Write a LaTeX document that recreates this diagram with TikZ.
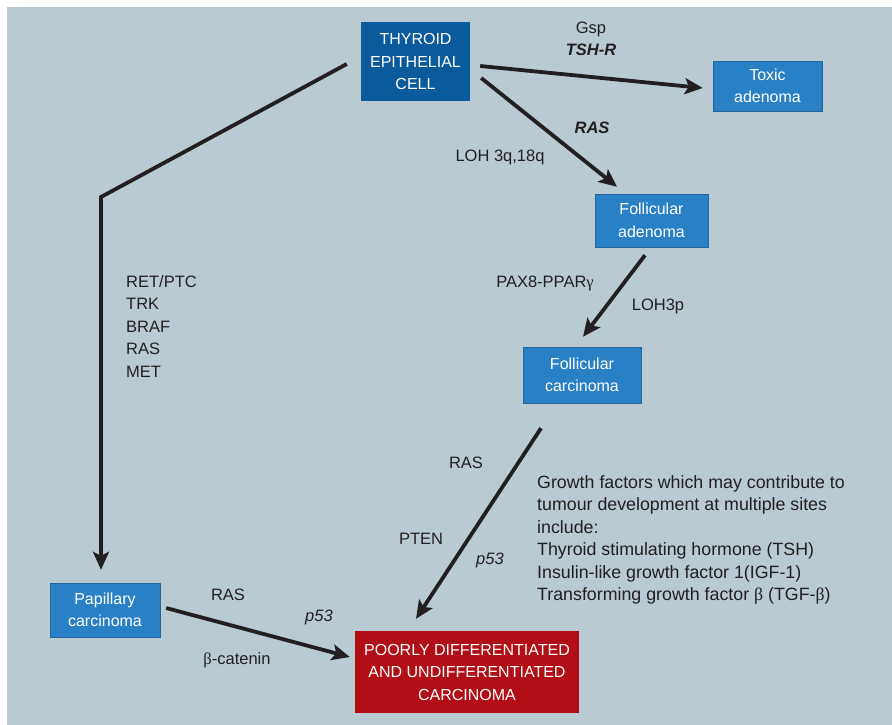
\documentclass[tikz,border=0pt]{standalone}
\usepackage{fontspec}
\setmainfont{Liberation Sans}
\newfontfamily\grk{Liberation Serif}
\usetikzlibrary{arrows.meta}
\definecolor{bgc}{HTML}{B9CAD3}
\definecolor{dblue}{HTML}{0A5A9C}
\definecolor{lblue}{HTML}{2A80C5}
\definecolor{dred}{HTML}{B20E16}
\definecolor{ink}{HTML}{231F20}
\tikzset{
  boxbase/.style={text=white, align=center, inner sep=0pt, font=\fontsize{16}{22.5}\selectfont},
  darkbox/.style={boxbase, fill=dblue},
  lightbox/.style={boxbase, fill=lblue, draw=lblue!80!black, line width=0.4pt},
  redbox/.style={boxbase, fill=dred},
  lbl/.style={text=ink, inner sep=0pt, font=\fontsize{16.5}{22.5}\selectfont},
  arr/.style={draw=ink, line width=3.8pt, -{Stealth[length=18pt,width=16pt,inset=4pt]}},
}
\begin{document}
\begin{tikzpicture}[x=1pt,y=-1pt]
\useasboundingbox (0,0) rectangle (892,725);
\fill[white] (0,0) rectangle (892,725);
\fill[bgc] (7,7) rectangle (892,725);

\node[darkbox, minimum width=109pt, minimum height=79pt] (cell) at (415.5,61.5) {THYROID\\EPITHELIAL\\CELL};
\node[lightbox, minimum width=109pt, minimum height=50pt] (toxic) at (767.5,86) {Toxic\\adenoma};
\node[lightbox, minimum width=113pt, minimum height=53pt] (fad) at (651.5,220.5) {Follicular\\adenoma};
\node[lightbox, minimum width=118pt, minimum height=56pt] (fca) at (582,375) {Follicular\\carcinoma};
\node[lightbox, minimum width=110pt, minimum height=54pt] (pap) at (105,610) {Papillary\\carcinoma};
\node[redbox, minimum width=224pt, minimum height=82pt] (poor) at (467,672) {POORLY DIFFERENTIATED\\AND UNDIFFERENTIATED\\CARCINOMA};

\coordinate (bend) at (101,197);

\draw[arr] ([xshift=10pt,yshift=-4.5pt]cell.east) -- ([xshift=-10pt,yshift=-2pt]toxic.west);
\draw[arr] ([xshift=11pt,yshift=-16.5pt]cell.east) -- ([xshift=-34.5pt,yshift=7pt]fad.north);
\draw[arr] ([xshift=-6.5pt,yshift=-8pt]fad.south) -- ([xshift=1pt,yshift=10pt]fca.north);
\draw[arr] ([xshift=-41pt,yshift=-25pt]fca.south) -- ([xshift=-51pt,yshift=12pt]poor.north);
\draw[arr] ([xshift=6pt,yshift=2pt]pap.east) -- ([xshift=-5pt,yshift=15pt]poor.west);
\draw[arr] ([xshift=-14pt,yshift=-2.5pt]cell.west) -- (bend) -- ([xshift=-4pt,yshift=13pt]pap.north);

\node[lbl] (gsp) at (591,29) {Gsp};
\node[lbl, font=\fontsize{16.5}{22.5}\selectfont\bfseries\itshape] (tshr) at (591,50) {TSH-R};
\node[lbl, font=\fontsize{16.5}{22.5}\selectfont\bfseries\itshape] (ras1) at (592,128) {RAS};
\node[lbl] (loh1) at (500,157) {LOH 3q,18q};
\node[lbl] (pax) at (545,283) {PAX8-PPAR{\grk γ}};
\node[lbl] (loh3p) at (658,306) {LOH3p};
\node[lbl, anchor=north west, align=left] (ret) at (126,275) {RET/PTC\\TRK\\BRAF\\RAS\\MET};
\node[lbl] (ras2) at (466,463) {RAS};
\node[lbl] (pten) at (421,539) {PTEN};
\node[lbl, font=\fontsize{16.5}{22.5}\selectfont\itshape] (p53a) at (490,560) {p53};
\node[lbl, anchor=north west, align=left, font=\fontsize{17.8}{22.5}\selectfont] (gf) at (537,475) {Growth factors which may contribute to\\tumour development at multiple sites\\include:\\Thyroid stimulating hormone (TSH)\\Insulin-like growth factor 1(IGF-1)\\Transforming growth factor {\grk β} (TGF-{\grk β})};
\node[lbl] (ras3) at (228,595) {RAS};
\node[lbl, font=\fontsize{16.5}{22.5}\selectfont\itshape] (p53b) at (319,617) {p53};
\node[lbl] (bcat) at (237,660) {{\grk β}-catenin};
\end{tikzpicture}
\end{document}
